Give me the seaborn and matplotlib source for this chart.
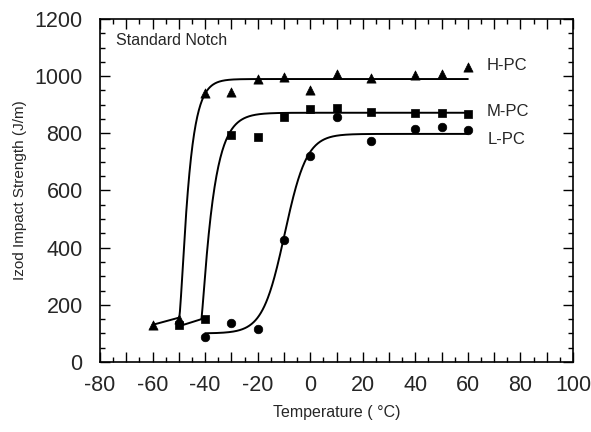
import numpy as np
import pandas as pd
import matplotlib
matplotlib.use("Agg")
import matplotlib.pyplot as plt
import seaborn as sns
from matplotlib.ticker import MultipleLocator, FuncFormatter

# Izod impact strength (J/m) versus test temperature (deg C)
grades = ["H-PC", "M-PC", "L-PC"]

temp_h = [-60, -50, -40, -30, -20, -10, 0, 10, 23, 40, 50, 60]
izod_h = [130, 150, 940, 945, 990, 997, 950, 1007, 993, 1003, 1007, 1031]

temp_m = [-50, -40, -30, -20, -10, 0, 10, 23, 40, 50, 60]
izod_m = [128, 150, 794, 787, 857, 885, 888, 874, 870, 870, 867]

temp_l = [-40, -30, -20, -10, 0, 10, 23, 40, 50, 60]
izod_l = [87, 136, 115, 427, 720, 857, 773, 815, 822, 811]

# Ductile-brittle transition fits (Richards curve over a sloping lower shelf)
fit_start = [-60, -50, -40]
fit_end = [60, 60, 60]
fit_lower = [130, 125, 100]
fit_lower_slope = [2.5, 2.9, 0.0]
fit_upper = [990, 872, 798]
fit_rate = [0.32, 0.23, 0.238]
fit_mid = [-48.6, -40.6, -9.7]
fit_shape = [-0.667, -0.833, 1.0]

markers = {"H-PC": "^", "M-PC": "s", "L-PC": "o"}
marker_sizes = {"H-PC": 44, "M-PC": 36, "L-PC": 38}


def richards(t, start, lower, slope, upper, k, m, nu):
    shelf = lower + slope * (t - start)
    core = 1.0 + nu * np.exp(-k * (t - m))
    frac = np.where(core > 0, np.clip(core, 1e-12, None) ** (-1.0 / nu), 0.0)
    return shelf + (upper - shelf) * frac


points = pd.concat([
    pd.DataFrame({"grade": "H-PC", "temp": temp_h, "izod": izod_h}),
    pd.DataFrame({"grade": "M-PC", "temp": temp_m, "izod": izod_m}),
    pd.DataFrame({"grade": "L-PC", "temp": temp_l, "izod": izod_l}),
], ignore_index=True)

curves = []
for i, g in enumerate(grades):
    t = np.linspace(fit_start[i], fit_end[i], 600)
    y = richards(t, fit_start[i], fit_lower[i], fit_lower_slope[i], fit_upper[i],
                 fit_rate[i], fit_mid[i], fit_shape[i])
    curves.append(pd.DataFrame({"grade": g, "temp": t, "izod": y}))
curves = pd.concat(curves, ignore_index=True)

sns.set_theme(style="ticks")
plt.rcParams["font.family"] = ["Liberation Sans", "DejaVu Sans"]

fig = plt.figure(figsize=(5.91, 4.32), dpi=100)
ax = fig.add_axes([100 / 591, 70 / 432, 473 / 591, 343 / 432])

for g in grades:
    sns.lineplot(data=curves[curves["grade"] == g], x="temp", y="izod",
                 color="black", linewidth=1.4, sort=False, ax=ax)

for g in grades:
    sub = points[points["grade"] == g]
    sns.scatterplot(data=sub, x="temp", y="izod", marker=markers[g],
                    s=marker_sizes[g], color="black", edgecolor="black",
                    linewidth=0.5, legend=False, ax=ax, zorder=3)

ax.set_xlim(-80, 100)
ax.set_ylim(0, 1200)

ax.xaxis.set_major_locator(MultipleLocator(10))
ax.xaxis.set_minor_locator(MultipleLocator(5))
ax.yaxis.set_major_locator(MultipleLocator(200))
ax.yaxis.set_minor_locator(MultipleLocator(50))
ax.xaxis.set_major_formatter(FuncFormatter(
    lambda v, p: f"{v:.0f}" if abs(v % 20) < 1e-6 else ""))
ax.yaxis.set_major_formatter(FuncFormatter(lambda v, p: f"{v:.0f}"))

ax.tick_params(which="both", direction="in", top=True, right=True,
               color="black", width=1.0)
ax.tick_params(which="major", length=7)
ax.tick_params(which="minor", length=3.5)
ax.tick_params(axis="x", which="major", labelsize=15.5, pad=9.5)
ax.tick_params(axis="y", which="major", labelsize=15.5, pad=12.5)

for side in ax.spines.values():
    side.set_linewidth(1.2)
    side.set_color("black")

ax.set_xlabel("Temperature ( °C)", fontsize=11.5, va="top")
ax.set_ylabel("Izod Impact Strength (J/m)", fontsize=11)
ax.xaxis.set_label_coords(0.5, -0.125)
ax.yaxis.set_label_coords(-0.155, 0.5)

ax.text(-73.9, 1125, "Standard Notch", fontsize=11.5, va="center", ha="left")
ax.text(67.3, 1036, "H-PC", fontsize=12, va="center", ha="left")
ax.text(67.3, 875, "M-PC", fontsize=12, va="center", ha="left")
ax.text(67.6, 777, "L-PC", fontsize=12, va="center", ha="left")

fig.savefig("out.png", dpi=100)
